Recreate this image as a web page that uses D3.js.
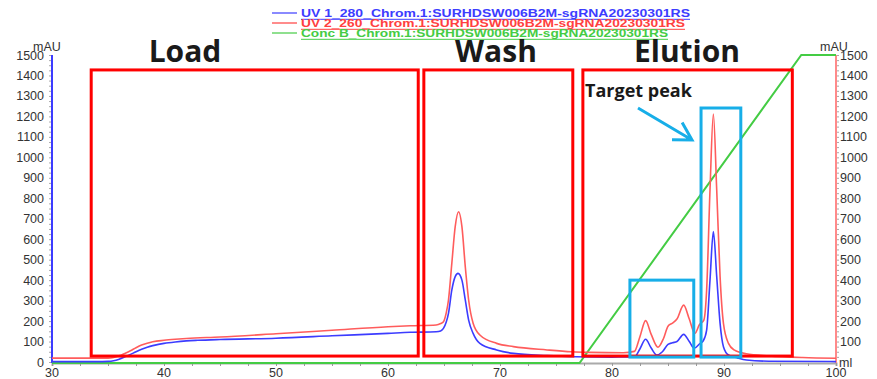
<!DOCTYPE html>
<html>
<head>
<meta charset="utf-8">
<script src="https://cdn.jsdelivr.net/npm/d3@7"></script>
<style>
  body { margin: 0; background: #fff; }
  svg { display: block; }
</style>
</head>
<body>
<svg id="chart" width="877" height="379"></svg>
<script>
// volume (ml) / absorbance (mAU)
const uv280 = [
    [30, 2], [34, 2], [35, 3], [35.5, 6], [36, 14], [36.5, 25], [37, 37], [37.5, 50], [38, 62],
    [38.5, 72], [39, 80], [39.5, 86], [40, 91], [41, 98], [42, 103], [43, 106], [45, 110],
    [50, 116], [55, 128], [60, 140], [62, 145], [64.3, 148], [64.7, 152], [64.95, 164],
    [65.2, 195], [65.4, 238], [65.7, 352], [66.0, 417], [66.25, 433], [66.6, 400], [66.9, 303],
    [67.2, 205], [67.6, 140], [68.2, 91], [69.7, 59], [71.2, 42], [74.2, 31], [76.7, 26],
    [80, 24], [82, 25], [82.5, 65], [83.0, 111], [83.5, 68], [84.0, 34], [84.5, 50], [85.0, 86],
    [85.4, 94], [85.8, 100], [86.4, 135], [86.9, 100], [87.35, 67], [87.8, 88], [88.15, 104],
    [88.45, 156], [88.75, 400], [89.05, 637], [89.35, 417], [89.65, 189], [89.95, 75],
    [90.4, 34], [91.2, 20], [92, 10], [94, 4], [100, 2]
];
const uv260 = [
    [30, 19], [35, 19], [35.5, 22], [36, 30], [36.5, 42], [37, 55], [37.5, 70], [38, 83],
    [38.5, 92], [39, 99], [40, 106], [41, 111], [42, 115], [45, 122], [50, 138], [55, 155],
    [60, 172], [62, 177], [64.3, 181], [64.7, 188], [64.95, 197], [65.2, 240], [65.4, 303],
    [65.7, 483], [66.0, 661], [66.3, 734], [66.6, 661], [66.9, 466], [67.2, 303], [67.6, 189],
    [68.2, 132], [69.7, 91], [71.2, 75], [74.2, 59], [76.4, 50], [78, 47], [81, 45], [82, 52],
    [82.5, 125], [83.0, 202], [83.5, 135], [84.1, 72], [84.6, 115], [85.0, 175], [85.4, 190],
    [85.8, 210], [86.4, 278], [86.9, 210], [87.4, 140], [87.8, 182], [88.2, 205], [88.45, 352],
    [88.75, 840], [89.05, 1211], [89.35, 840], [89.65, 417], [89.95, 189], [90.4, 91],
    [90.9, 59], [92, 40], [94, 30], [97, 22], [100, 18]
];
// Conc B in %
const concB = [[30, 0], [77.1, 0], [96.9, 100], [100, 100]];

const xTicks = [30, 40, 50, 60, 70, 80, 90, 100];
const yTicks = [0, 100, 200, 300, 400, 500, 600, 700, 800, 900, 1000, 1100, 1200, 1300, 1400, 1500];

const legendNames = [
    "UV 1_280_Chrom.1:SURHDSW006B2M-sgRNA20230301RS",
    "UV 2_260_Chrom.1:SURHDSW006B2M-sgRNA20230301RS",
    "Conc B_Chrom.1:SURHDSW006B2M-sgRNA20230301RS"
];

// phase regions [label, from ml, to ml, from mAU, to mAU]
const phases = [
    ["Load", 33.5, 62.7, 29, 1427],
    ["Wash", 63.2, 76.5, 29, 1427],
    ["Elution", 77.4, 96.1, 29, 1427]
];
const peakBoxes = [
    [81.6, 87.3, 24, 400],
    [87.95, 91.5, 24, 1241]
];

const colBlue = "#3c3cff";
const colRed = "#ff5c5c";
const colGreen = "#44cc44";
const colCyan = "#17aee8";

const svg = d3.select("#chart");

const x = d3.scaleLinear().domain([30, 100]).range([52, 836]);
const y = d3.scaleLinear().domain([0, 1500]).range([362, 55]);
const yPct = d3.scaleLinear().domain([0, 100]).range([363, 55]);

// x axis
const xAxis = svg.append("g")
    .attr("transform", "translate(0,363)")
    .call(d3.axisBottom(x).tickValues(d3.range(30, 100.1, 2.5)).tickSize(3).tickFormat(""));
xAxis.select(".domain").attr("stroke", "#aaa").attr("stroke-width", 2);
xAxis.selectAll(".tick line").attr("stroke", "#999");

svg.append("g")
    .selectAll("text")
    .data(xTicks)
    .join("text")
    .attr("x", d => x(d))
    .attr("y", 377)
    .attr("text-anchor", "middle")
    .attr("font-family", "Liberation Sans, Arial, sans-serif")
    .attr("font-size", 12.5)
    .attr("fill", "#333")
    .text(d => d);

// left axis
const yAxisL = svg.append("g")
    .attr("transform", "translate(52,0)")
    .call(d3.axisLeft(y).tickValues(d3.range(0, 1501, 25)).tickSize(3).tickFormat(""));
yAxisL.select(".domain").remove();
yAxisL.selectAll(".tick line").attr("stroke", "#aaa");

svg.append("g")
    .selectAll("text")
    .data(yTicks)
    .join("text")
    .attr("x", 44)
    .attr("y", d => y(d) + 4.5)
    .attr("text-anchor", "end")
    .attr("font-family", "Liberation Sans, Arial, sans-serif")
    .attr("font-size", 12.5)
    .attr("fill", "#333")
    .text(d => d);

// right axis
const yAxisR = svg.append("g")
    .attr("transform", "translate(836,0)")
    .call(d3.axisRight(y).tickValues(d3.range(25, 1501, 25)).tickSize(3).tickFormat(""));
yAxisR.select(".domain").remove();
yAxisR.selectAll(".tick line").attr("stroke", "#aaa");

svg.append("g")
    .selectAll("text")
    .data(yTicks.filter(d => d > 0))
    .join("text")
    .attr("x", 840)
    .attr("y", d => y(d) + 4.5)
    .attr("font-family", "Liberation Sans, Arial, sans-serif")
    .attr("font-size", 12.5)
    .attr("fill", "#333")
    .text(d => d);

const unitStyle = sel => sel
    .attr("font-family", "Liberation Sans, Arial, sans-serif")
    .attr("font-size", 12.5)
    .attr("fill", "#333");
svg.append("text").attr("x", 33).attr("y", 51).text("mAU").call(unitStyle);
svg.append("text").attr("x", 820).attr("y", 51).text("mAU").call(unitStyle);
svg.append("text").attr("x", 839).attr("y", 367).text("ml").call(unitStyle);

// axis lines
svg.append("line")
    .attr("x1", 52).attr("x2", 52).attr("y1", 55).attr("y2", 363)
    .attr("stroke", colBlue).attr("stroke-width", 2);
svg.append("line")
    .attr("x1", 836).attr("x2", 836).attr("y1", 55).attr("y2", 363)
    .attr("stroke", "#ff8a8a").attr("stroke-width", 2);

// curves
const line = d3.line()
    .x(d => x(d[0]))
    .y(d => y(d[1]))
    .curve(d3.curveMonotoneX);
const linePct = d3.line()
    .x(d => x(d[0]))
    .y(d => yPct(d[1]));

svg.append("path")
    .attr("d", linePct(concB))
    .attr("fill", "none")
    .attr("stroke", colGreen)
    .attr("stroke-width", 2);
svg.append("path")
    .attr("d", line(uv260))
    .attr("fill", "none")
    .attr("stroke", colRed)
    .attr("stroke-width", 1.6);
svg.append("path")
    .attr("d", line(uv280))
    .attr("fill", "none")
    .attr("stroke", colBlue)
    .attr("stroke-width", 1.6);

// legend
const legendCols = [colBlue, "#ff4040", colGreen];
const legendLen = [389, 384, 367];
const legend = svg.append("g")
    .selectAll("g")
    .data(legendNames)
    .join("g")
    .attr("transform", (d, i) => `translate(272,${13 + i * 10})`);
legend.append("line")
    .attr("x1", 0).attr("x2", 25)
    .attr("stroke", (d, i) => legendCols[i])
    .attr("stroke-width", 1.2);
legend.append("text")
    .attr("x", 29)
    .attr("y", 3.5)
    .attr("font-family", "Liberation Sans, Arial, sans-serif")
    .attr("font-size", 11)
    .attr("font-weight", "bold")
    .attr("textLength", (d, i) => legendLen[i])
    .attr("lengthAdjust", "spacingAndGlyphs")
    .attr("fill", (d, i) => legendCols[i])
    .text(d => d);
// underline drawn a little lower so the underscores stay visible
legend.append("line")
    .attr("x1", 29)
    .attr("x2", (d, i) => 29 + legendLen[i])
    .attr("y1", 6.3).attr("y2", 6.3)
    .attr("stroke", (d, i) => legendCols[i])
    .attr("stroke-width", 1);

// phase boxes and titles
svg.append("g")
    .selectAll("rect")
    .data(phases)
    .join("rect")
    .attr("x", d => x(d[1]))
    .attr("y", d => y(d[4]))
    .attr("width", d => x(d[2]) - x(d[1]))
    .attr("height", d => y(d[3]) - y(d[4]))
    .attr("fill", "none")
    .attr("stroke", "#ff0000")
    .attr("stroke-width", 3);

svg.append("g")
    .selectAll("text")
    .data(phases)
    .join("text")
    .attr("x", d => d[0] == "Load" ? 185 : (d[0] == "Wash" ? 496 : 687))
    .attr("y", 62)
    .attr("text-anchor", "middle")
    .attr("font-family", "Open Sans, sans-serif")
    .attr("font-weight", "bold")
    .attr("font-size", 30)
    .attr("fill", "#1a1a1a")
    .text(d => d[0]);

svg.append("g")
    .selectAll("rect")
    .data(peakBoxes)
    .join("rect")
    .attr("x", d => x(d[0]))
    .attr("y", d => y(d[3]))
    .attr("width", d => x(d[1]) - x(d[0]))
    .attr("height", d => y(d[2]) - y(d[3]))
    .attr("fill", "none")
    .attr("stroke", colCyan)
    .attr("stroke-width", 3);

// target peak label + arrow
svg.append("text")
    .attr("x", 585)
    .attr("y", 97)
    .attr("font-family", "Open Sans, sans-serif")
    .attr("font-weight", "bold")
    .attr("font-size", 18)
    .attr("fill", "#1a1a1a")
    .text("Target peak");

const a0 = [638, 108], a1 = [692, 140];
const ang = Math.atan2(a1[1] - a0[1], a1[0] - a0[0]);
const head = 20;
const h1 = [a1[0] - head * Math.cos(ang - 0.52), a1[1] - head * Math.sin(ang - 0.52)];
const h2 = [a1[0] - head * Math.cos(ang + 0.52), a1[1] - head * Math.sin(ang + 0.52)];
svg.append("path")
    .attr("d", `M${a0}L${a1}M${h1}L${a1}L${h2}`)
    .attr("fill", "none")
    .attr("stroke", colCyan)
    .attr("stroke-width", 3);
</script>
</body>
</html>
